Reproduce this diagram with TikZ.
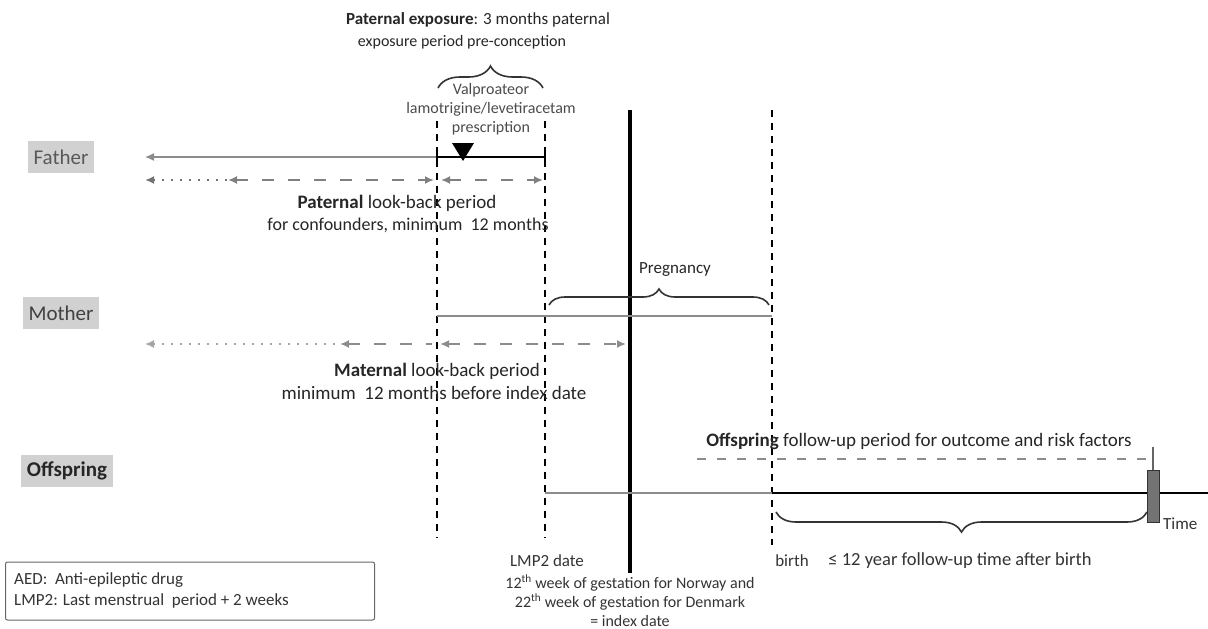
\documentclass[tikz,border=0pt]{standalone}
\usepackage{fontspec}
\setmainfont{Carlito}
\usetikzlibrary{arrows.meta,decorations.pathreplacing}

\begin{document}
\begin{tikzpicture}[x=1pt,y=-1pt,
  role/.style={fill=black!18, text=black!65, font=\fontsize{21}{23}\selectfont,
    minimum height=32, inner xsep=6},
  txt/.style={font=\fontsize{19}{22}\selectfont, text=black!85, inner sep=0},
  small/.style={font=\fontsize{17}{20}\selectfont, text=black!80, inner sep=0},
  guide/.style={line width=2.2, black, dash pattern=on 7 off 6},
  index/.style={line width=4, black},
  thinline/.style={line width=1.4, black!45},
  boldline/.style={line width=2.8, black},
  look/.style={line width=2, black!50, dash pattern=on 12 off 14},
  faint/.style={line width=1.5, black!40, dash pattern=on 2 off 7},
  tipL/.style={{Latex[length=9,width=8]}-},
  tipLR/.style={{Latex[length=9,width=8]}-{Latex[length=9,width=8]}},
  brace/.style={decorate, line width=1.6, black!80}]

\useasboundingbox (0,0) rectangle (1208,629);

% ---- row labels
\node[role] (father) at (61,157) {Father};
\node[role, text=black!75] (mother) at (61,313) {Mother};
\node[role, text=black!85, font=\fontsize{21}{23}\selectfont\bfseries] (offspring) at (67,471) {Offspring};

% ---- key time points
\coordinate (xl-top) at (437,121);  \coordinate (xl-bot) at (437,538);
\coordinate (xr-top) at (545,121);  \coordinate (xr-bot) at (545,538);
\coordinate (idx-top) at (630,110); \coordinate (idx-bot) at (630,573);
\coordinate (bth-top) at (772,110); \coordinate (bth-bot) at (772,545);

% vertical guides
\draw[guide] (xl-top) -- (xl-bot);
\draw[guide] (xr-top) -- (xr-bot);
\draw[guide] (bth-top) -- (bth-bot);
\draw[index] (idx-top) -- (idx-bot);

% ---- father timeline
\coordinate (f0) at (145,157);
\coordinate (f1) at (437,157);
\coordinate (f2) at (545,157);
\draw[thinline, tipL] (f0) -- (f1);
\draw[boldline] (f1) -- (f2);
\draw[line width=1.4] ([yshift=-5]f1) -- ([yshift=5]f1);
\draw[line width=1.4] ([yshift=-5]f2) -- ([yshift=5]f2);
\fill[black] (452,143) -- (474,143) -- (463,161) -- cycle;

% paternal look-back arrows
\coordinate (fd0) at (145,180);
\coordinate (fd1) at (228,180);
\coordinate (fd2) at (434,180);
\coordinate (fd3) at (441,180);
\coordinate (fd4) at (543,180);
\draw[faint, line width=2, black!55, tipL] (fd0) -- (fd1);
\draw[look, tipLR] (fd1) -- (fd2);
\draw[look, tipLR] (fd3) -- (fd4);

% exposure brace and texts
\draw[brace, decoration={brace, amplitude=22}] (438,88) -- (543,88);
\node[txt, font=\fontsize{17}{20}\selectfont] (pexp1) at (478,20) {\textbf{Paternal exposure}: 3 months paternal};
\node[txt, font=\fontsize{16}{19}\selectfont] (pexp2) at (462,42) {exposure period pre-conception};
\node[small, text=black!70, align=center, font=\fontsize{16}{19}\selectfont] (drug) at (491,109)
  {Valproateor\\lamotrigine/levetiracetam\\prescription};
\node[txt] (plb1) at (397,203) {\textbf{Paternal} look-back period};
\node[txt, font=\fontsize{18}{21}\selectfont] (plb2) at (408,225) {for confounders, minimum\ \ 12 months};

% ---- mother timeline
\coordinate (m0) at (437,316);
\coordinate (m1) at (772,316);
\draw[thinline] (m0) -- (m1);
\draw[brace, decoration={brace, amplitude=16}] (549,305) -- (769,305);
\node[small, text=black!85] (preg) at (675,270) {Pregnancy};

% maternal look-back arrows
\coordinate (md0) at (145,344);
\coordinate (md1) at (340,344);
\coordinate (md2) at (432,344);
\coordinate (md3) at (440,344);
\coordinate (md4) at (626,344);
\draw[faint, black!35, tipL] (md0) -- (md1);
\draw[look, black!45, tipL] (md1) -- (md2);
\draw[look, black!45, tipLR] (md3) -- (md4);
\node[txt] (mlb1) at (437,371) {\textbf{Maternal} look-back period};
\node[txt] (mlb2) at (434,393) {minimum\ \ 12 months before index date};

% ---- offspring timeline
\coordinate (o0) at (545,493);
\coordinate (o1) at (772,493);
\coordinate (o2) at (1147,493);
\coordinate (o3) at (1159,493);
\coordinate (o4) at (1208,493);
\draw[thinline] (o0) -- (o1);
\draw[boldline] (o1) -- (o2);
\draw[boldline] (o3) -- (o4);
\node[draw=black!80, fill=black!55, minimum width=12, minimum height=52, inner sep=0] (end) at (1153,496) {};

% follow-up arrow
\coordinate (od0) at (697,459);
\coordinate (od1) at (1153,459);
\draw[look, black!45, line width=1.6, dash pattern=on 9 off 11] (od0) -- (od1);
\draw[line width=1.2, black!60] (1153,447) -- (end.north);
\node[txt] (ofu) at (919,441) {\textbf{Offspring} follow-up period for outcome and risk factors};

% follow-up brace
\draw[brace, decoration={brace, amplitude=20, mirror}] (776,512) -- (1147,512);
\node[small, font=\fontsize{18.5}{22}\selectfont] (fut) at (960,561) {≤ 12 year follow-up time after birth};
\node[small, anchor=west] (time) at (1163,524) {Time};

% ---- axis labels
\node[small] (lmp) at (547,561) {LMP2 date};
\node[small] (birth) at (792,561) {birth};
\node[small, align=center, font=\fontsize{16}{19}\selectfont] (idx) at (630,601)
  {12\textsuperscript{th} week of gestation for Norway and\\
   22\textsuperscript{th} week of gestation for Denmark\\
   = index date};

% ---- legend
\node[draw=black!60, line width=1, rounded corners=2, minimum width=369, minimum height=58,
  inner sep=0] (legend) at (190,591) {};
\node[small, anchor=west, align=left, font=\fontsize{17}{21}\selectfont] (legtxt) at (14,590)
  {AED:\ \ Anti-epileptic drug\\LMP2: Last menstrual\ \ period + 2 weeks};

\end{tikzpicture}
\end{document}
